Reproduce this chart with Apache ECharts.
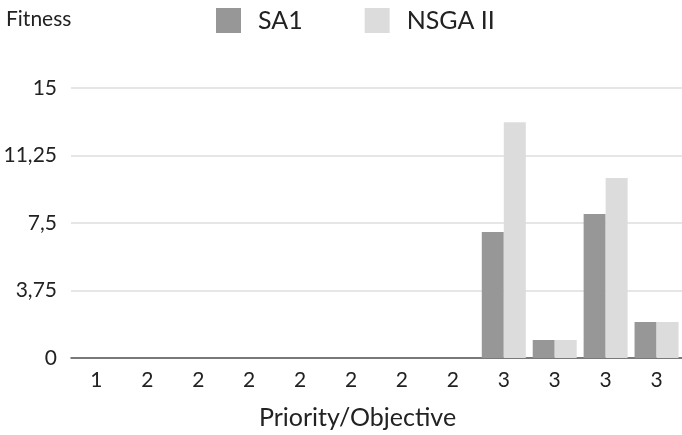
<!DOCTYPE html>
<html><head><meta charset="utf-8">
<script src="https://cdn.jsdelivr.net/npm/echarts@6/dist/echarts.min.js"></script>
<style>html,body{margin:0;padding:0;background:#fff}#c{width:682px;height:435px}</style>
</head><body><div id="c"></div>
<script>
const categories = ['1','2','2','2','2','2','2','2','3','3','3','3'];
const sa1 = [0,0,0,0,0,0,0,0,7,1,8,2];
const nsga2 = [0,0,0,0,0,0,0,0,13.1,1,10,2];
const yTicks = [0, 3.75, 7.5, 11.25, 15];
const seriesNames = ['SA1', 'NSGA II'];
const FONT = 'Lato';
const chart = echarts.init(document.getElementById('c'));
chart.setOption({
  animation: false,
  textStyle: {fontFamily: FONT},
  title: {text: 'Fitness', left: 6, top: 9, padding: 0, textStyle: {fontFamily: FONT, fontSize: 21, fontWeight: 'normal', color: '#222'}},
  legend: {
    data: seriesNames, left: 216, top: 8, padding: 0, itemWidth: 25, itemHeight: 25, itemGap: 62,
    icon: 'rect',
    textStyle: {fontFamily: FONT, fontSize: 25, color: '#222', padding: [0,0,0,12]}
  },
  grid: {left: 71, right: -4, top: 88, bottom: 73, containLabel: false},
  xAxis: {
    type: 'category', data: categories,
    name: 'Priority/Objective', nameLocation: 'middle', nameGap: 47,
    nameTextStyle: {fontFamily: FONT, fontSize: 25, color: '#222', padding: [0, 38, 0, 0]},
    axisLine: {lineStyle: {color: '#555', width: 1.5}},
    axisTick: {show: false},
    axisLabel: {fontFamily: FONT, fontSize: 21, color: '#222', margin: 12, interval: 0}
  },
  yAxis: {
    type: 'value', min: 0, max: 15, interval: 3.75,
    axisLine: {show: false}, axisTick: {show: false},
    splitLine: {lineStyle: {color: '#dedede', width: 1.5}},
    axisLabel: {fontFamily: FONT, fontSize: 21, color: '#222', margin: 14,
      formatter: v => String(v).replace('.', ',')}
  },
  series: [
    {name: seriesNames[0], type: 'bar', data: sa1, barWidth: 22, barGap: '0%',
     itemStyle: {color: '#979797'}},
    {name: seriesNames[1], type: 'bar', data: nsga2, barWidth: 22,
     itemStyle: {color: '#dcdcdc'}}
  ]
});
</script></body></html>
